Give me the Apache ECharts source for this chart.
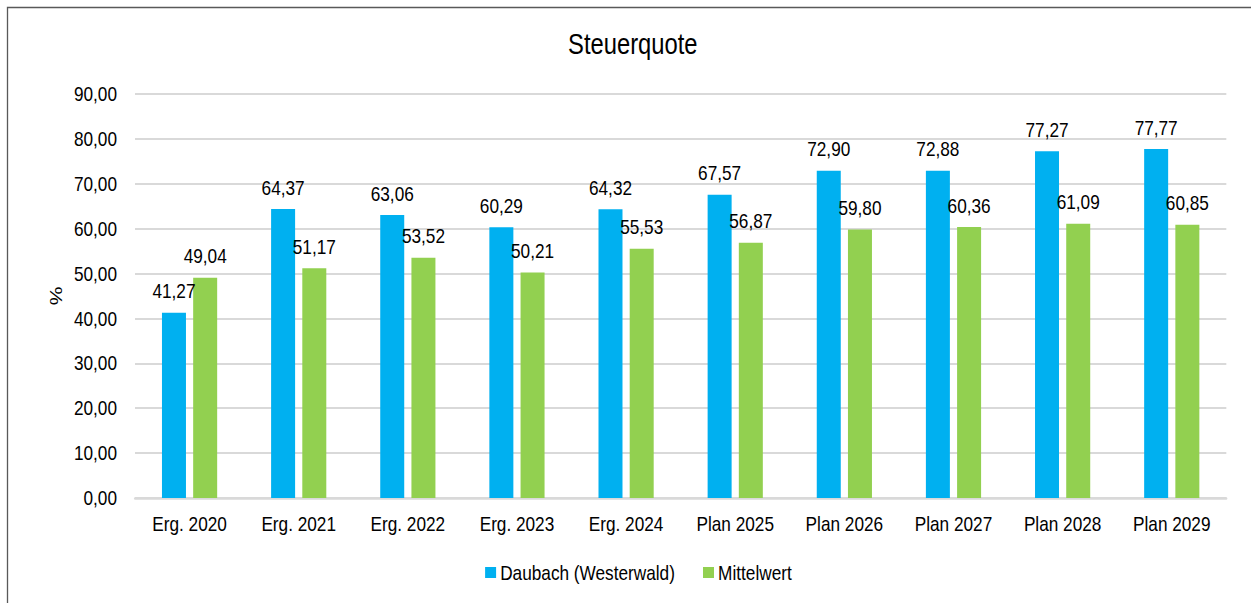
<!DOCTYPE html>
<html>
<head>
<meta charset="utf-8">
<script src="https://cdn.jsdelivr.net/npm/echarts@6/dist/echarts.min.js"></script>
<style>
  html, body { margin: 0; padding: 0; background: #fff; overflow: hidden; }
  /* the reference uses a narrow face (Arial Narrow); no narrow font is installed,
     so the chart is drawn wider and squeezed horizontally */
  #chart { width: 1526px; height: 603px; transform: scaleX(0.82); transform-origin: 0 0; }
</style>
</head>
<body>
<div id="chart"></div>
<script>
var categories = ['Erg. 2020', 'Erg. 2021', 'Erg. 2022', 'Erg. 2023', 'Erg. 2024',
    'Plan 2025', 'Plan 2026', 'Plan 2027', 'Plan 2028', 'Plan 2029'];
var daubach = [41.27, 64.37, 63.06, 60.29, 64.32, 67.57, 72.90, 72.88, 77.27, 77.77];
var mittelwert = [49.04, 51.17, 53.52, 50.21, 55.53, 56.87, 59.80, 60.36, 61.09, 60.85];

var FONT = '"Liberation Sans", Arial, sans-serif';
var SX = 0.82; // horizontal squeeze, x values below are screen px / SX

function fmt(v) {
    return Number(v).toFixed(2).replace('.', ',');
}
function sx(px) { return px / SX; }

var chart = echarts.init(document.getElementById('chart'), null, { renderer: 'svg' });

var option = {
    animation: false,
    textStyle: { fontFamily: FONT, color: '#000' },
    title: {
        text: 'Steuerquote',
        left: sx(564),
        top: 25,
        textStyle: { fontFamily: FONT, fontSize: 29, fontWeight: 'normal', color: '#000' }
    },
    graphic: [{
        type: 'rect',
        shape: { x: sx(7.5), y: 7.5, width: 2000, height: 700 },
        style: { fill: 'none', stroke: '#595959', lineWidth: 1.6 },
        silent: true
    }],
    legend: {
        left: sx(481),
        top: 557,
        itemWidth: sx(11),
        itemHeight: 11,
        itemGap: sx(28),
        icon: 'rect',
        textStyle: { fontFamily: FONT, fontSize: 21, color: '#000' },
        data: ['Daubach (Westerwald)', 'Mittelwert']
    },
    grid: {
        left: sx(135),
        right: sx(25),
        top: 94,
        bottom: 105
    },
    xAxis: {
        type: 'category',
        data: categories,
        axisTick: { show: false },
        axisLine: { lineStyle: { color: '#D9D9D9', width: 2.5 } },
        axisLabel: { interval: 0, fontFamily: FONT, fontSize: 21, color: '#000', margin: 15 }
    },
    yAxis: {
        type: 'value',
        min: 0,
        max: 90,
        interval: 10,
        name: '%',
        nameLocation: 'middle',
        nameGap: 84,
        nameRotate: 90,
        nameTextStyle: { fontFamily: FONT, fontSize: 21, color: '#000' },
        axisLabel: {
            fontFamily: FONT, fontSize: 21, color: '#000', margin: sx(18),
            formatter: fmt
        },
        splitLine: { lineStyle: { color: '#D9D9D9', width: 2 } }
    },
    series: [{
        name: 'Daubach (Westerwald)',
        type: 'bar',
        data: daubach,
        barWidth: sx(24),
        barGap: '30%',
        itemStyle: { color: '#00B0F0' },
        label: {
            show: true, position: 'top', distance: 11,
            fontFamily: FONT, fontSize: 21, color: '#000',
            formatter: function (p) { return fmt(p.value); }
        }
    }, {
        name: 'Mittelwert',
        type: 'bar',
        data: mittelwert,
        barWidth: sx(24),
        barGap: '30%',
        itemStyle: { color: '#92D050' },
        label: {
            show: true, position: 'top', distance: 11,
            fontFamily: FONT, fontSize: 21, color: '#000',
            formatter: function (p) { return fmt(p.value); }
        }
    }]
};

chart.setOption(option);
</script>
</body>
</html>
